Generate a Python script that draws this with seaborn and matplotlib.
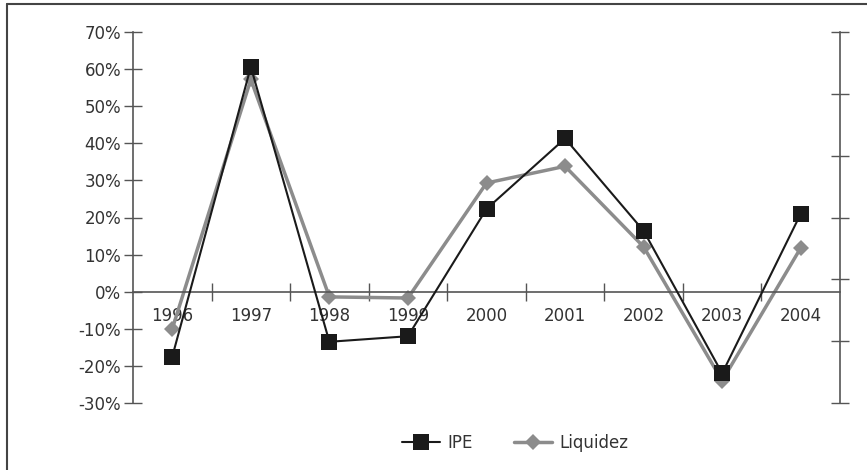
import pandas as pd
import matplotlib
matplotlib.use("Agg")
import matplotlib.pyplot as plt
from matplotlib.lines import Line2D
from matplotlib.ticker import FixedLocator
import seaborn as sns

anos = ["1996", "1997", "1998", "1999", "2000", "2001", "2002", "2003", "2004"]
ipe = [-17.5, 60.6, -13.5, -12.0, 22.3, 41.3, 16.4, -22.0, 21.0]
liquidez = [-10.0, 57.2, -1.4, -1.7, 29.3, 33.8, 12.1, -24.0, 11.8]
y_ticks = [-30, -20, -10, 0, 10, 20, 30, 40, 50, 60, 70]

df = pd.DataFrame({"pos": range(len(anos)), "IPE": ipe, "Liquidez": liquidez})

sns.set_theme(style="white")
plt.rcParams["font.family"] = ["DejaVu Sans"]

fig = plt.figure(figsize=(8.67, 4.70), dpi=100)
ax = fig.add_axes([133 / 867, 1 - 403 / 470, (840 - 133) / 867, (403 - 32) / 470])

eixo = "#555555"
sns.lineplot(data=df, x="pos", y="IPE", color="#1a1a1a", linewidth=1.5,
             marker="s", markersize=11, markeredgewidth=0, ax=ax, label="IPE",
             zorder=3)
sns.lineplot(data=df, x="pos", y="Liquidez", color="#8c8c8c", linewidth=2.5,
             marker="D", markersize=8, markeredgewidth=0, ax=ax, label="Liquidez",
             zorder=2)

ax.set_xlim(-0.5, len(anos) - 0.5)
ax.set_ylim(-30, 70)
ax.set_xlabel("")
ax.set_ylabel("")

ax.set_yticks(y_ticks)
ax.set_yticklabels([f"{v}%" for v in y_ticks])
ax.tick_params(axis="y", direction="inout", length=13, width=1, color=eixo, pad=2,
               labelsize=12, labelcolor="#333333")

ax.set_xticks(range(len(anos)))
ax.set_xticklabels(anos)
ax.xaxis.set_minor_locator(FixedLocator([i + 0.5 for i in range(len(anos) - 1)]))
ax.tick_params(axis="x", which="major", length=0, pad=11, labelsize=12,
               labelcolor="#333333")
ax.tick_params(axis="x", which="minor", direction="inout", length=13, width=1,
               color=eixo, bottom=True)

ax.spines["bottom"].set_position(("data", 0))
for s in ["left", "bottom", "right"]:
    ax.spines[s].set_color(eixo)
    ax.spines[s].set_linewidth(1.2)
ax.spines["top"].set_visible(False)
ax.spines["right"].set_visible(False)

ax2 = ax.twinx()
ax2.set_ylim(0, 6)
ax2.set_yticks(range(7))
ax2.set_yticklabels([])
ax2.tick_params(axis="y", direction="inout", length=13, width=1, color=eixo, right=True)
ax2.spines["right"].set_color(eixo)
ax2.spines["right"].set_linewidth(1.2)
for s in ["top", "left", "bottom"]:
    ax2.spines[s].set_visible(False)

leg = ax.legend(loc="center", bbox_to_anchor=(515 / 867, 1 - 443 / 470),
                bbox_transform=fig.transFigure, ncol=2, frameon=False,
                fontsize=12, handlelength=2.3, columnspacing=2.5,
                handletextpad=0.4)
for t in leg.get_texts():
    t.set_color("#333333")

# moldura externa (topo e esquerda)
fig.add_artist(Line2D([7 / 867, 7 / 867], [0, 1 - 4 / 470], color="#444444", linewidth=1.5))
fig.add_artist(Line2D([7 / 867, 1], [1 - 4 / 470, 1 - 4 / 470], color="#444444", linewidth=1.5))

fig.savefig("out.png", dpi=100)
plt.close(fig)
